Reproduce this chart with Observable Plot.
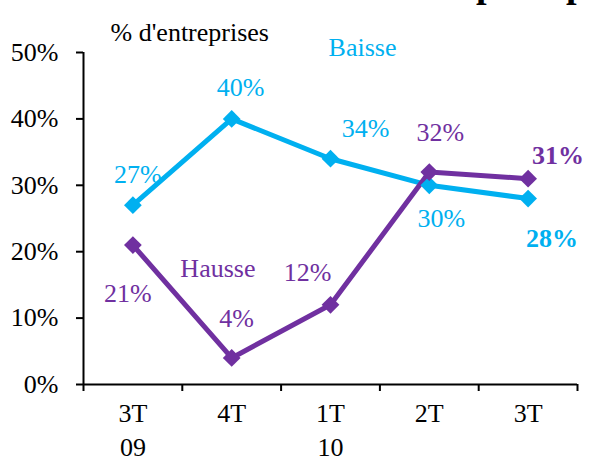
<!DOCTYPE html>
<html>
<head>
<meta charset="utf-8">
<script src="https://cdn.jsdelivr.net/npm/d3@7"></script>
<script src="https://cdn.jsdelivr.net/npm/@observablehq/plot@0.6"></script>
<style>
  html, body { margin: 0; padding: 0; background: #fff; }
  #wrap { position: relative; width: 590px; height: 464px; overflow: hidden; }
  .cut { position: absolute; font-family: "Liberation Serif", serif; font-weight: bold; font-size: 38px; line-height: 38px; color: #000; }
</style>
</head>
<body>
<div id="wrap"></div>
<script>
// ---- data ----
const quarters = ["3T\n09", "4T", "1T\n10", "2T", "3T"];
const baisse = [27, 40, 34, 30, 28];
const hausse = [21, 4, 12, 32, 31];
const yTicks = [0, 10, 20, 30, 40, 50];
const seriesNames = ["Baisse", "Hausse"];
const unitLabel = "% d'entreprises";

// ---- layout (label offsets, px) ----
const baisseOffsets = [[5, -31], [9, -31], [35, -30], [12, 33], [24, 40]];
const hausseOffsets = [[-5, 49], [5, -39], [-23, -32], [11, -39], [30, -23]];
const colBaisse = "#00B0F0";
const colHausse = "#7030A0";
const FS = 26;

const rows = (vals, name) => vals.map((v, i) => ({i, v, name}));
const dB = rows(baisse, "Baisse");
const dH = rows(hausse, "Hausse");

function valueLabels(data, offsets, color) {
  return data.map((d, k) => Plot.text([d], {
    x: "i", y: "v", text: d => d.v + "%",
    dx: offsets[k][0], dy: offsets[k][1], fontSize: FS,
    fill: color, fontWeight: k === data.length - 1 ? "bold" : "normal"
  }));
}

const chart = Plot.plot({
  width: 590, height: 464,
  marginLeft: 83, marginRight: 13, marginTop: 52, marginBottom: 80,
  style: {fontFamily: "'Liberation Serif', serif", fontSize: FS + "px", background: "transparent", overflow: "visible"},
  x: {type: "linear", domain: [-0.5, quarters.length - 0.5]},
  y: {domain: [0, 50]},
  marks: [
    Plot.axisY({ticks: yTicks, tickFormat: d => d + "%", tickSize: 7, tickPadding: 18, strokeWidth: 2, label: null, fill: "#000", fontSize: FS}),
    Plot.axisX({ticks: d3.range(quarters.length + 1).map(k => k - 0.5), tickFormat: () => "", tickSize: 7, strokeWidth: 2, label: null}),
    Plot.axisX({ticks: d3.range(quarters.length), tickFormat: i => quarters[i], tickSize: 0, tickPadding: 14, lineHeight: 1.3, label: null, fill: "#000", fontSize: FS}),
    Plot.ruleX([-0.5], {stroke: "#000", strokeWidth: 2}),
    Plot.ruleY([0], {stroke: "#000", strokeWidth: 2}),
    Plot.line(dB, {x: "i", y: "v", stroke: colBaisse, strokeWidth: 5}),
    Plot.line(dH, {x: "i", y: "v", stroke: colHausse, strokeWidth: 5}),
    Plot.dot(dB, {x: "i", y: "v", symbol: "diamond2", r: 8, fill: colBaisse}),
    Plot.dot(dH, {x: "i", y: "v", symbol: "diamond2", r: 8, fill: colHausse}),
    ...valueLabels(dB, baisseOffsets, colBaisse),
    ...valueLabels(dH, hausseOffsets, colHausse),
    Plot.text([dB[2]], {x: "i", y: "v", text: () => seriesNames[0], dx: 32, dy: -111, fill: colBaisse, fontSize: FS}),
    Plot.text([dH[0]], {x: "i", y: "v", text: () => seriesNames[1], dx: 85, dy: 24, fill: colHausse, fontSize: FS}),
    Plot.text([unitLabel], {frameAnchor: "top-left", textAnchor: "start", dx: 27, dy: -30, fill: "#000", fontSize: FS})
  ]
});
const wrap = document.getElementById("wrap");
wrap.appendChild(chart);
// cropped title glyphs at the very top (only descenders visible)
[[476, "p"], [566, "p"]].forEach(([x, t]) => {
  const s = document.createElement("span");
  s.className = "cut"; s.textContent = t;
  s.style.left = x + "px"; s.style.top = "-35px";
  wrap.appendChild(s);
});
</script>
</body>
</html>
